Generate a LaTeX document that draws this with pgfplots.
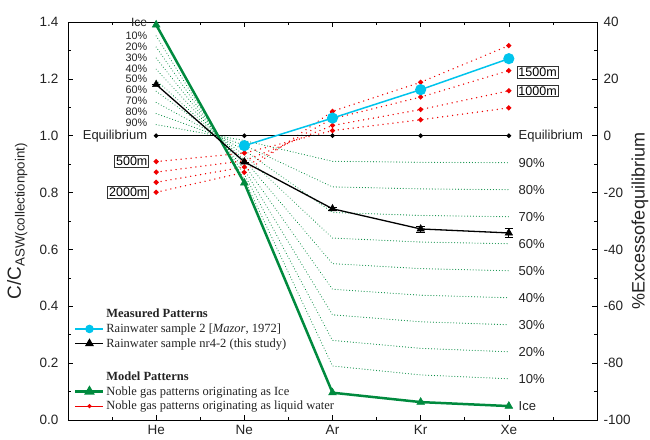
\documentclass[border=0pt]{standalone}
\usepackage{fontspec}
\setmainfont{Liberation Sans}
\newfontfamily\seriffont{Liberation Serif}
\usepackage{pgfplots}
\pgfplotsset{compat=1.18}
\definecolor{icegreen}{RGB}{0,138,62}
\definecolor{rainblue}{RGB}{0,196,236}
\definecolor{liqred}{RGB}{240,0,0}
\definecolor{txt}{RGB}{35,35,35}
\begin{document}
\begin{tikzpicture}
\path[use as bounding box] (-68pt,-19pt) rectangle (582pt,420pt);
\begin{axis}[
  at={(0,0)}, anchor=south west,
  scale only axis, width=529pt, height=398pt,
  xmin=-1, xmax=5, ymin=0, ymax=1.4,
  xtick={0,1,2,3,4}, xticklabels={He,Ne,Ar,Kr,Xe},
  minor xtick={-0.5,0.5,1.5,2.5,3.5,4.5},
  xtick pos=both, ytick pos=left,
  ytick={0,0.2,0.4,0.6,0.8,1.0,1.2,1.4},
  minor ytick={0.1,0.3,0.5,0.7,0.9,1.1,1.3},
  tick align=inside, major tick length=5pt, minor tick length=3pt,
  tick style={black, line width=0.6pt},
  axis line style={line width=0.7pt},
  /pgf/number format/assume math mode=true,
  yticklabel style={/pgf/number format/fixed, /pgf/number format/fixed zerofill, /pgf/number format/precision=1, xshift=-6pt},
  xticklabel style={yshift=-2pt},
  ticklabel style={font=\fontsize{13.5}{15}\selectfont, text=txt},
  ylabel={C/C\textsubscript{ASW(collectionpoint)}},
  ylabel style={font=\fontsize{19}{21}\selectfont, text=txt, at={(axis description cs:-0.096,0.5)}, anchor=center},
  clip=false,
  legend cell align=left,
  legend image code/.code={\draw[mark repeat=2,mark phase=2,#1] plot coordinates {(0pt,0pt)(14pt,0pt)(28pt,0pt)};},
  legend style={at={(axis description cs:0.006,0.012)}, anchor=south west, draw=none, fill=none,
    font=\seriffont\fontsize{12.5}{13.5}\selectfont, text=txt, row sep=0.8pt, nodes={inner sep=1.8pt}},
]
% legend images
\addlegendimage{empty legend}\addlegendentry{\textbf{Measured Patterns}}
\addlegendimage{rainblue, line width=1.5pt, mark=*, mark size=3.5pt}\addlegendentry{Rainwater sample 2 [\textit{Mazor}, 1972]}
\addlegendimage{black, line width=1.2pt, mark=triangle*, mark size=4pt}\addlegendentry{Rainwater sample nr4-2 (this study)}
\addlegendimage{empty legend}\addlegendentry{\rule{0pt}{13pt}}
\addlegendimage{empty legend}\addlegendentry{\textbf{Model Patterns}}
\addlegendimage{icegreen, line width=2.2pt, mark=triangle*, mark size=4pt}\addlegendentry{Noble gas patterns originating as Ice}
\addlegendimage{liqred, line width=1pt, mark=*, mark size=1.5pt}\addlegendentry{Noble gas patterns originating as liquid water}

% green dotted mixing lines (10% ... 90% liquid)
\pgfplotsset{mixline/.style={forget plot, icegreen, line width=1.1pt, dash pattern=on 0.01pt off 2.9pt, line cap=round, no marks}}
\addplot[mixline] coordinates {(0,1.351)(1,0.847)(2,0.19)(3,0.1585)(4,0.145)};
\addplot[mixline] coordinates {(0,1.312)(1,0.864)(2,0.28)(3,0.252)(4,0.24)};
\addplot[mixline] coordinates {(0,1.273)(1,0.881)(2,0.37)(3,0.3455)(4,0.335)};
\addplot[mixline] coordinates {(0,1.234)(1,0.898)(2,0.46)(3,0.439)(4,0.43)};
\addplot[mixline] coordinates {(0,1.195)(1,0.915)(2,0.55)(3,0.5325)(4,0.525)};
\addplot[mixline] coordinates {(0,1.156)(1,0.932)(2,0.64)(3,0.626)(4,0.62)};
\addplot[mixline] coordinates {(0,1.117)(1,0.949)(2,0.73)(3,0.7195)(4,0.715)};
\addplot[mixline] coordinates {(0,1.078)(1,0.966)(2,0.82)(3,0.813)(4,0.81)};
\addplot[mixline] coordinates {(0,1.039)(1,0.983)(2,0.91)(3,0.9065)(4,0.905)};

% red dotted liquid-water lines (500, 1000, 1500, 2000 m)
\pgfplotsset{liqline/.style={forget plot, liqred, line width=1.5pt, dash pattern=on 0.01pt off 5pt, line cap=round, mark=*, mark size=1.7pt, mark options={solid}}}
\addplot[liqline] coordinates {(0,0.909)(1,0.939)(2,1.018)(3,1.056)(4,1.098)};
\addplot[liqline] coordinates {(0,0.872)(1,0.912)(2,1.036)(3,1.092)(4,1.158)};
\addplot[liqline] coordinates {(0,0.836)(1,0.890)(2,1.060)(3,1.136)(4,1.229)};
\addplot[liqline] coordinates {(0,0.801)(1,0.871)(2,1.086)(3,1.188)(4,1.317)};

% equilibrium
\addplot[forget plot, black, line width=1.3pt, mark=*, mark size=1.6pt] coordinates {(0,1)(1,1)(2,1)(3,1)(4,1)};

% ice
\addplot[forget plot, icegreen, line width=2.5pt, mark=triangle*, mark size=4.5pt, mark options={line width=0.5pt}] coordinates {(0,1.39)(1,0.834)(2,0.096)(3,0.063)(4,0.049)};

% rainwater nr4-2
\addplot[forget plot, black, line width=1.3pt, mark=triangle*, mark size=4.3pt, mark options={line width=0.5pt},
  error bars/.cd, y dir=both, y explicit, error bar style={line width=0.8pt}]
  coordinates {(0,1.18)+-(0,0) (1,0.908)+-(0,0) (2,0.743)+-(0,0.004) (3,0.672)+-(0,0.01) (4,0.658)+-(0,0.015)};

% rainwater Mazor
\addplot[forget plot, rainblue, line width=1.5pt, mark=*, mark size=4.8pt] coordinates {(1,0.965)(2,1.062)(3,1.162)(4,1.271)};

% labels left
\begin{scope}[every node/.style={text=txt, inner sep=0pt}]
\node[anchor=east, font=\fontsize{12}{12}\selectfont] at (axis cs:-0.1,1.398) {Ice};
\node[anchor=east, font=\fontsize{10.8}{11}\selectfont] at (axis cs:-0.1,1.351) {10\%};
\node[anchor=east, font=\fontsize{10.8}{11}\selectfont] at (axis cs:-0.1,1.313) {20\%};
\node[anchor=east, font=\fontsize{10.8}{11}\selectfont] at (axis cs:-0.1,1.275) {30\%};
\node[anchor=east, font=\fontsize{10.8}{11}\selectfont] at (axis cs:-0.1,1.237) {40\%};
\node[anchor=east, font=\fontsize{10.8}{11}\selectfont] at (axis cs:-0.1,1.199) {50\%};
\node[anchor=east, font=\fontsize{10.8}{11}\selectfont] at (axis cs:-0.1,1.160) {60\%};
\node[anchor=east, font=\fontsize{10.8}{11}\selectfont] at (axis cs:-0.1,1.122) {70\%};
\node[anchor=east, font=\fontsize{10.8}{11}\selectfont] at (axis cs:-0.1,1.084) {80\%};
\node[anchor=east, font=\fontsize{10.8}{11}\selectfont] at (axis cs:-0.1,1.046) {90\%};
\node[anchor=east, font=\fontsize{13}{14}\selectfont] at (axis cs:-0.1,0.998) {Equilibrium};
% labels right
\node[anchor=west, font=\fontsize{13}{14}\selectfont] at (axis cs:4.11,1.0) {Equilibrium};
\node[anchor=west, font=\fontsize{13}{14}\selectfont] at (axis cs:4.11,0.905) {90\%};
\node[anchor=west, font=\fontsize{13}{14}\selectfont] at (axis cs:4.11,0.81) {80\%};
\node[anchor=west, font=\fontsize{13}{14}\selectfont] at (axis cs:4.11,0.715) {70\%};
\node[anchor=west, font=\fontsize{13}{14}\selectfont] at (axis cs:4.11,0.62) {60\%};
\node[anchor=west, font=\fontsize{13}{14}\selectfont] at (axis cs:4.11,0.525) {50\%};
\node[anchor=west, font=\fontsize{13}{14}\selectfont] at (axis cs:4.11,0.43) {40\%};
\node[anchor=west, font=\fontsize{13}{14}\selectfont] at (axis cs:4.11,0.335) {30\%};
\node[anchor=west, font=\fontsize{13}{14}\selectfont] at (axis cs:4.11,0.24) {20\%};
\node[anchor=west, font=\fontsize{13}{14}\selectfont] at (axis cs:4.11,0.145) {10\%};
\node[anchor=west, font=\fontsize{13}{14}\selectfont] at (axis cs:4.11,0.049) {Ice};
\end{scope}
% boxed altitude labels
\begin{scope}[every node/.style={draw=black!80, line width=0.8pt, fill=white, text=black, inner sep=1.3pt, font=\fontsize{12.5}{13}\selectfont}]
\node[anchor=east] at (axis cs:-0.08,0.909) {500m};
\node[anchor=east] at (axis cs:-0.08,0.801) {2000m};
\node[anchor=west] at (axis cs:4.09,1.222) {1500m};
\node[anchor=west] at (axis cs:4.09,1.158) {1000m};
\end{scope}
\end{axis}

\begin{axis}[
  at={(0,0)}, anchor=south west,
  scale only axis, width=529pt, height=398pt,
  xmin=-1, xmax=5, ymin=-100, ymax=40,
  axis y line*=right, axis x line=none,
  ytick={-100,-80,-60,-40,-20,0,20,40},
  minor ytick={-90,-70,-50,-30,-10,10,30},
  tick align=inside, major tick length=5pt, minor tick length=3pt,
  tick style={black, line width=0.6pt},
  axis line style={line width=0.7pt},
  /pgf/number format/assume math mode=true,
  yticklabel style={xshift=3pt},
  ticklabel style={font=\fontsize{13.5}{15}\selectfont, text=txt},
  ylabel={\%Excessofequilibrium},
  ylabel style={font=\fontsize{18}{20}\selectfont, text=txt, at={(axis description cs:1.081,0.5)}, anchor=center, rotate=0},
]
\end{axis}
\end{tikzpicture}
\end{document}
